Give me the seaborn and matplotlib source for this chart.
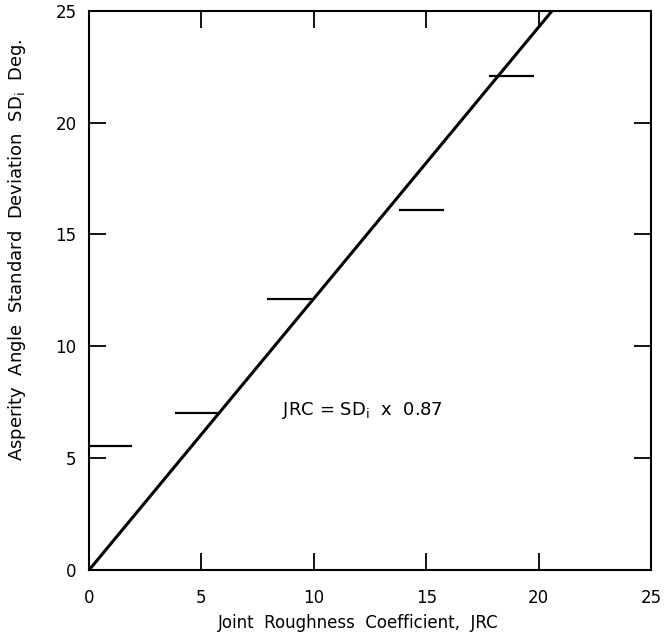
import matplotlib
matplotlib.use("Agg")
import matplotlib.pyplot as plt
import seaborn as sns
import pandas as pd

# data
seg_left = [0.0, 3.8, 7.9, 13.8, 17.8]
seg_right = [1.9, 5.8, 9.9, 15.8, 19.8]
seg_sd = [5.55, 7.0, 12.1, 16.1, 22.1]
fit_jrc = [0.0, 20.6]
fit_sd = [0.0, 25.0]

sns.set_style("ticks")
plt.rcParams['font.family'] = ['DejaVu Sans']
plt.rcParams['text.color'] = 'black'
plt.rcParams['axes.labelcolor'] = 'black'

fig = plt.figure(figsize=(6.65, 6.34), dpi=100)
ax = fig.add_axes([0.134, 0.101, 0.845, 0.882])

fit = pd.DataFrame({'JRC': fit_jrc, 'SD': fit_sd})
sns.lineplot(data=fit, x='JRC', y='SD', ax=ax, color='black', linewidth=2.2)

# horizontal bars for each JRC range
ax.hlines(seg_sd, seg_left, seg_right, color='black', linewidth=1.6)

ax.text(8.6, 7.15, 'JRC = SD$_\\mathregular{i}$  x  0.87', fontsize=13,
        va='center', ha='left')

ax.set_xlim(0, 25)
ax.set_ylim(0, 25)
ax.set_xticks([0, 5, 10, 15, 20, 25])
ax.set_yticks([0, 5, 10, 15, 20, 25])
ax.tick_params(direction='in', length=12, width=1.3, top=True, right=True,
               labelsize=12, colors='black', pad=9)
ax.tick_params(axis='x', pad=14)
for s in ax.spines.values():
    s.set_linewidth(1.5)
    s.set_color('black')

ax.set_xlabel('Joint  Roughness  Coefficient,  JRC', fontsize=12)
ax.xaxis.set_label_coords(0.478, -0.078)
ax.set_ylabel('Asperity  Angle  Standard  Deviation  SD$_\\mathregular{i}$  Deg.',
              fontsize=13)
ax.yaxis.set_label_coords(-0.108, 0.572)

fig.savefig('out.png', dpi=100)
